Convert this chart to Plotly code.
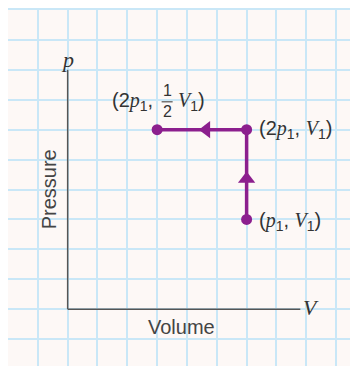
import plotly.graph_objects as go

# state points, in grid units (V1 = 6 squares, p1 = 3 squares)
V1 = 6
p1 = 3
state_V = [V1, V1, V1 / 2]
state_p = [p1, 2 * p1, 2 * p1]
state_labels = ["(p1, V1)", "(2p1, V1)", "(2p1, 1/2 V1)"]

# axis extents
axis_x_end = 7.8
axis_y_end = 8.0

purple = "#8c1f8e"
grid_blue = "#c9e7f7"
axis_grey = "#555555"
sans = "Liberation Sans, Arial, sans-serif"
serif = "Liberation Serif, Times New Roman, serif"

def it(s):
    return "<span style='font-family:Liberation Serif'><i>%s</i></span>" % s

def sub1():
    return "<sub>1</sub>"

fig = go.Figure()

# path p1,V1 -> 2p1,V1 -> 2p1,V1/2
fig.add_trace(go.Scatter(
    x=state_V, y=state_p,
    mode="lines+markers",
    line=dict(color=purple, width=3.5),
    marker=dict(color=purple, size=11),
    hoverinfo="skip",
))

# direction arrows along each leg
t = 0.45
arrow_x = [state_V[0] + t * (state_V[1] - state_V[0]), state_V[1] + t * (state_V[2] - state_V[1])]
arrow_y = [state_p[0] + t * (state_p[1] - state_p[0]), state_p[1] + t * (state_p[2] - state_p[1])]
fig.add_trace(go.Scatter(
    x=arrow_x, y=arrow_y,
    mode="markers",
    marker=dict(color=purple, size=15, symbol=["triangle-up", "triangle-left"]),
    hoverinfo="skip",
))

# axes
fig.add_shape(type="line", x0=0, y0=0, x1=0, y1=axis_y_end, line=dict(color=axis_grey, width=1.5))
fig.add_shape(type="line", x0=0, y0=0, x1=axis_x_end, y1=0, line=dict(color=axis_grey, width=1.5))

txt = dict(size=20, color="#333333", family=sans)

# right-hand labels
fig.add_annotation(x=state_V[0], y=state_p[0], text="(" + it("p") + sub1() + ", " + it("V") + sub1() + ")",
                   xanchor="left", yanchor="middle", xshift=10, yshift=-2, showarrow=False, font=txt)
fig.add_annotation(x=state_V[1], y=state_p[1], text="(2" + it("p") + sub1() + ", " + it("V") + sub1() + ")",
                   xanchor="left", yanchor="middle", xshift=10, yshift=0, showarrow=False, font=txt)

# left label with stacked fraction
fig.add_annotation(x=state_V[2], y=state_p[2], text="(2" + it("p") + sub1() + ",",
                   xanchor="right", yanchor="middle", xshift=-2, yshift=28, showarrow=False, font=txt)
fig.add_annotation(x=state_V[2], y=state_p[2], text="1<br>2",
                   xanchor="center", yanchor="middle", xshift=10, yshift=29, showarrow=False,
                   font=dict(size=16, color="#333333", family=sans))
fig.add_shape(type="line", x0=3.15, x1=3.52, y0=6.93, y1=6.93, line=dict(color="#333333", width=1))
fig.add_annotation(x=state_V[2], y=state_p[2], text=it("V") + sub1() + ")",
                   xanchor="left", yanchor="middle", xshift=19, yshift=28, showarrow=False, font=txt)

# axis letters and titles
fig.add_annotation(x=0, y=8.35, text="<i>p</i>", showarrow=False,
                   font=dict(size=22, color="#333333", family=serif))
fig.add_annotation(x=8.17, y=0.07, text="<i>V</i>", showarrow=False,
                   font=dict(size=22, color="#333333", family=serif))
fig.add_annotation(x=-0.63, y=4.0, text="Pressure", textangle=-90, showarrow=False,
                   font=dict(size=20, color="#444444", family=sans))
fig.add_annotation(x=3.83, y=-0.6, text="Volume", showarrow=False,
                   font=dict(size=20, color="#444444", family=sans))

grid = dict(showgrid=True, gridcolor=grid_blue, gridwidth=2, dtick=1, tick0=0,
            showticklabels=False, ticks="", zeroline=False,
            showline=True, mirror=True, linecolor=grid_blue, linewidth=2, fixedrange=True)

# the page body adds an 8px white border on the left and top
fig.update_layout(
    width=350, height=358,
    margin=dict(l=0, r=0, t=1, b=0, pad=0),
    paper_bgcolor="white",
    plot_bgcolor="#fdf8f6",
    showlegend=False,
    xaxis=dict(range=[-2, 9.667], **grid),
    yaxis=dict(range=[-1.9, 10], **grid),
)

fig.write_html("out.html")
